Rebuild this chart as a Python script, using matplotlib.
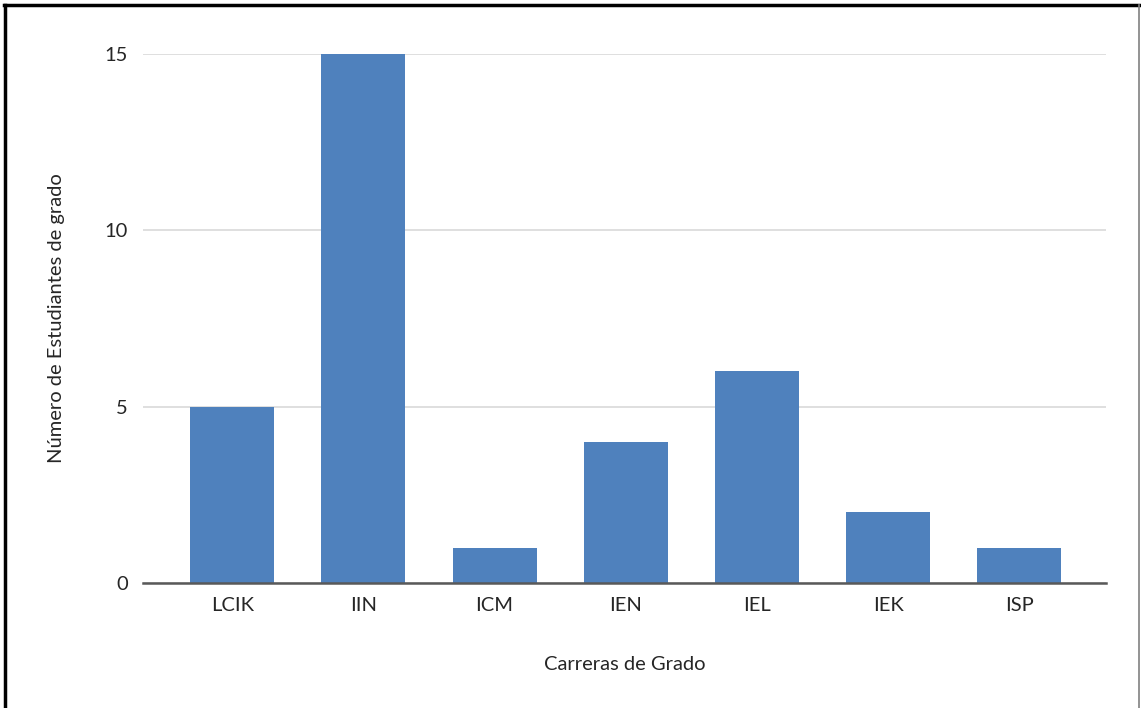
import matplotlib
matplotlib.use("Agg")
import matplotlib.pyplot as plt
from matplotlib.lines import Line2D

carreras = ["LCIK", "IIN", "ICM", "IEN", "IEL", "IEK", "ISP"]
estudiantes = [5, 15, 1, 4, 6, 2, 1]
y_ticks = [0, 5, 10, 15]

plt.rcParams["font.family"] = ["Lato", "DejaVu Sans"]

W, H = 1141, 708
fig = plt.figure(figsize=(W / 100, H / 100), dpi=100)
ax = fig.add_axes([143 / W, 1 - 583 / H, (1106 - 143) / W, (583 - 54) / H])

x = list(range(len(carreras)))
ax.bar(x, estudiantes, width=0.64, color="#4F81BD", zorder=3)

ax.set_xlim(-0.68, len(carreras) - 0.34)
ax.set_ylim(0, 15)
ax.set_yticks(y_ticks)
ax.set_xticks(x)
ax.set_xticklabels(carreras)
ax.grid(axis="y", color="#D9D9D9", linewidth=1.2, zorder=0)
ax.tick_params(length=0, labelsize=14.5, colors="#262626", pad=10)
ax.tick_params(axis="y", pad=11)

for s in ["top", "right", "left"]:
    ax.spines[s].set_visible(False)
ax.spines["bottom"].set_color("#595959")
ax.spines["bottom"].set_linewidth(1.8)
ax.spines["bottom"].set_zorder(4)

ax.set_xlabel("Carreras de Grado", fontsize=14.5, color="#262626", labelpad=30)
ax.set_ylabel("Número de Estudiantes de grado", fontsize=14.5, color="#262626", labelpad=28)

# border: black on the left and top, thin grey on the right
fig.lines.append(Line2D([5 / W, 5 / W], [0, 1 - 4.5 / H], transform=fig.transFigure,
                        color="black", linewidth=2.5))
fig.lines.append(Line2D([4 / W, 1139 / W], [1 - 5 / H, 1 - 5 / H], transform=fig.transFigure,
                        color="black", linewidth=2.5))
fig.lines.append(Line2D([1139 / W, 1139 / W], [0, 1 - 5 / H], transform=fig.transFigure,
                        color="#808080", linewidth=1.2))

fig.savefig("out.png", dpi=100)
